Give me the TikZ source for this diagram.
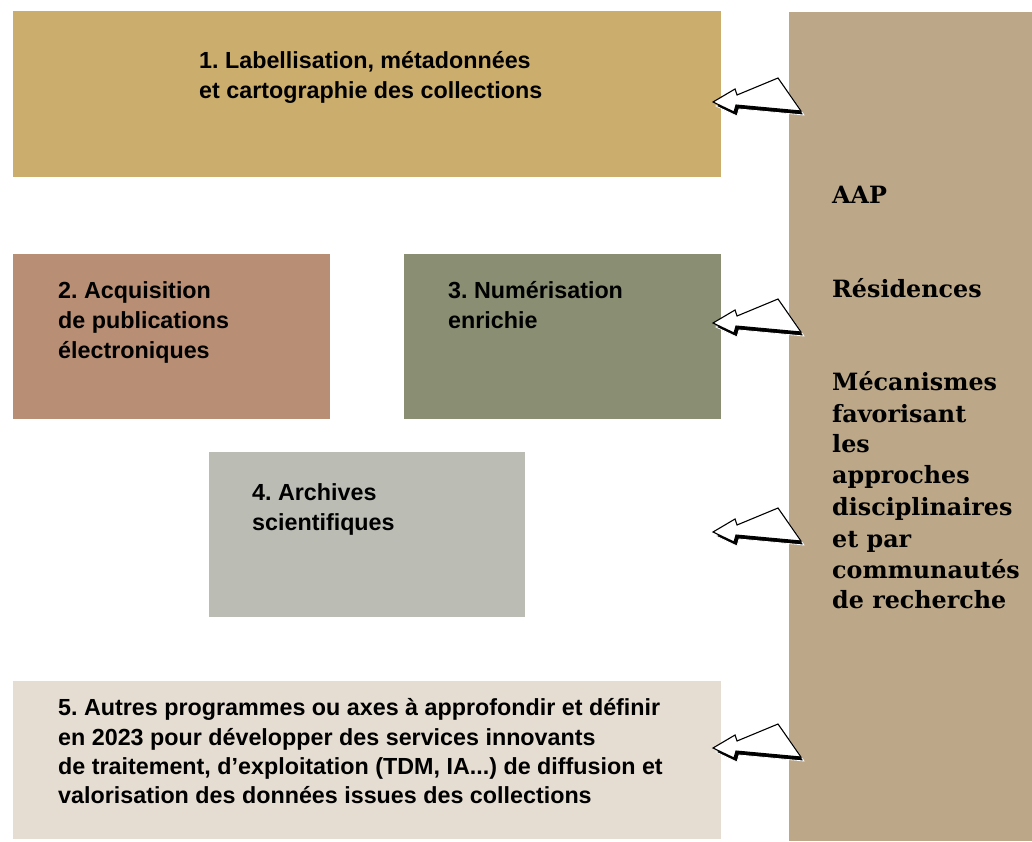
\documentclass[tikz,border=0pt]{standalone}
\usepackage{fontspec}
\setmainfont{Liberation Sans}
\newfontfamily\slab{DejaVu Serif}
\frenchspacing
\definecolor{cone}{HTML}{CBAE6E}
\definecolor{ctwo}{HTML}{B88E74}
\definecolor{cthree}{HTML}{8A8E72}
\definecolor{cfour}{HTML}{BBBDB5}
\definecolor{cfive}{HTML}{E5DDD1}
\definecolor{cpanel}{HTML}{BCA889}
\tikzset{
  box/.style={draw=none},
  lbl/.style={anchor=base west, inner sep=0pt, font=\fontsize{23.3}{28}\selectfont\bfseries},
  plbl/.style={anchor=base west, inner sep=0pt, font=\fontsize{23.8}{28}\selectfont\slab\bfseries},
  arrowbody/.style={fill=white, draw=black, line width=1.1pt, line join=miter},
  arrowshadow/.style={fill=black, draw=white, line width=0.8pt, line join=miter}
}
\newcommand{\hollowarrow}[1]{%
  \begin{scope}[shift={(#1)}]
    \draw[arrowshadow] (3,4) -- (25,-9) -- (27,-3) -- (68,-20) -- (91,13) -- (26,7) -- (24,14) -- cycle;
    \draw[arrowbody] (0,0) -- (22,-13) -- (24,-7) -- (65,-24) -- (88,9) -- (23,3) -- (21,10) -- cycle;
  \end{scope}}
\begin{document}
\begin{tikzpicture}[x=1pt,y=-1pt]
\useasboundingbox (0,0) rectangle (1032,841);
\fill[white] (0,0) rectangle (1032,841);
% boxes
\fill[cone] (13,11) rectangle (721,177);
\fill[ctwo] (13,254) rectangle (330,419);
\fill[cthree] (404,254) rectangle (721,419);
\fill[cfour] (209,452) rectangle (525,617);
\fill[cfive] (13,681) rectangle (721,839);
\fill[cpanel] (789,12) rectangle (1032,841);
% texts box 1
\node[lbl] (t1a) at (199,68) {1. Labellisation, métadonnées};
\node[lbl] (t1b) at (199,98) {et cartographie des collections};
% box 2
\node[lbl] (t2a) at (58,298) {2. Acquisition};
\node[lbl] (t2b) at (58,328) {de publications};
\node[lbl] (t2c) at (58,358) {électroniques};
% box 3
\node[lbl] (t3a) at (448,298) {3. Numérisation};
\node[lbl] (t3b) at (448,328) {enrichie};
% box 4
\node[lbl] (t4a) at (252,500) {4. Archives};
\node[lbl] (t4b) at (252,530) {scientifiques};
% box 5
\node[lbl] (t5a) at (58,715) {5. Autres programmes ou axes à approfondir et définir};
\node[lbl] (t5b) at (58,745) {en 2023 pour développer des services innovants};
\node[lbl] (t5c) at (58,774) {de traitement, d'exploitation (TDM, IA...) de diffusion et};
\node[lbl] (t5d) at (58,803) {valorisation des données issues des collections};
% panel
\node[plbl] (p1) at (832,203) {AAP};
\node[plbl] (p2) at (832,297) {Résidences};
\node[plbl] (p3) at (832,390) {Mécanismes};
\node[plbl] (p4) at (832,422) {favorisant};
\node[plbl] (p5) at (832,452) {les};
\node[plbl] (p6) at (832,483) {approches};
\node[plbl] (p7) at (832,515) {disciplinaires};
\node[plbl] (p8) at (832,547) {et par};
\node[plbl] (p9) at (832,578) {communautés};
\node[plbl] (p10) at (832,608) {de recherche};
% arrows
\coordinate (a1) at (713,102);
\coordinate (a2) at (713,323);
\coordinate (a3) at (713,532);
\coordinate (a4) at (713,748);
\hollowarrow{a1}
\hollowarrow{a2}
\hollowarrow{a3}
\hollowarrow{a4}
\end{tikzpicture}
\end{document}
